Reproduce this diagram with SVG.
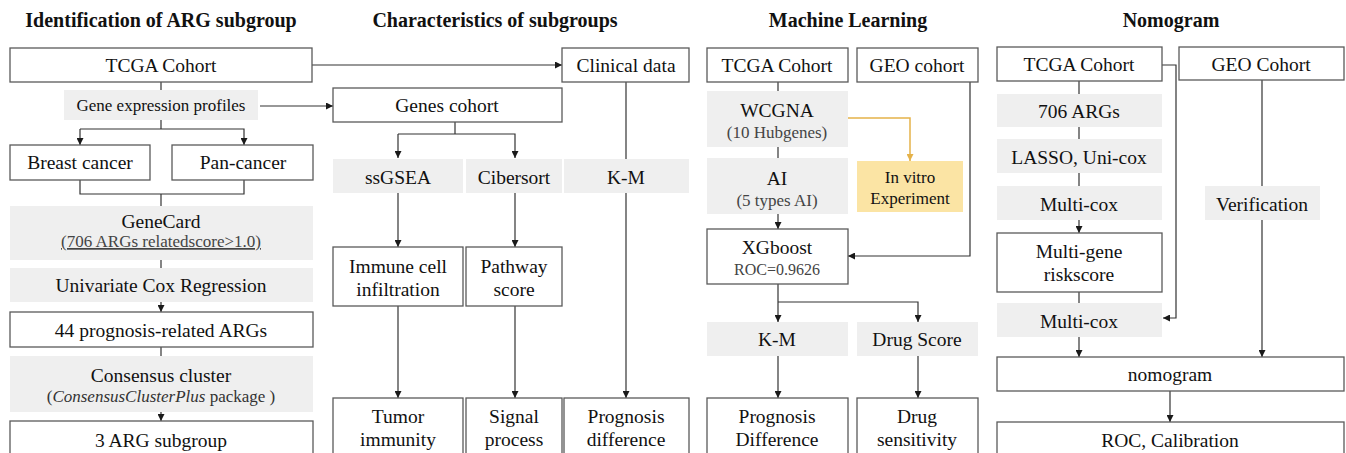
<svg xmlns="http://www.w3.org/2000/svg" width="1346" height="453" viewBox="0 0 1346 453">
<style>
.bg{fill:#fff}
.box{fill:#fff;stroke:#5a5a5a;stroke-width:1.3}
.grey{fill:#efefef;stroke:none}
.yel{fill:#fbe4a4;stroke:none}
.t{font-family:"Liberation Serif","Times New Roman",serif;font-size:19.5px;fill:#111;text-anchor:middle}
.s{font-family:"Liberation Serif","Times New Roman",serif;font-size:17px;fill:#444;text-anchor:middle}
.h{font-family:"Liberation Serif","Times New Roman",serif;font-size:20px;font-weight:bold;fill:#111;text-anchor:middle}
.c{fill:none;stroke:#333;stroke-width:1.2}
.o{fill:none;stroke:#e5b24a;stroke-width:1.5}
</style>
<defs>
<marker id="a" markerUnits="userSpaceOnUse" markerWidth="8" markerHeight="7" refX="7" refY="3.5" orient="auto">
<path d="M0,0 L7,3.5 L0,7 z" fill="#1a1a1a"/>
</marker>
<marker id="ao" markerUnits="userSpaceOnUse" markerWidth="8" markerHeight="7" refX="7" refY="3.5" orient="auto">
<path d="M0,0 L7,3.5 L0,7 z" fill="#e5b24a"/>
</marker>
</defs>
<rect class="bg" x="0" y="0" width="1346" height="453"/>

<g id="titles">
<text class="h" x="161" y="27">Identification of ARG subgroup</text>
<text class="h" x="495" y="27">Characteristics of subgroups</text>
<text class="h" x="848" y="27">Machine Learning</text>
<text class="h" x="1171" y="27">Nomogram</text>
</g>

<g id="connectors">
<!-- column 1 -->
<line class="c" x1="161" y1="82" x2="161" y2="90"/>
<line class="c" x1="161" y1="120" x2="161" y2="129"/>
<polyline class="c" points="80,129 244,129 244,145" marker-end="url(#a)"/>
<line class="c" x1="80" y1="129" x2="80" y2="145" marker-end="url(#a)"/>
<polyline class="c" points="80,180 80,194 244,194 244,180"/>
<line class="c" x1="161" y1="194" x2="161" y2="206"/>
<line class="c" x1="161" y1="260" x2="161" y2="268"/>
<line class="c" x1="161" y1="302" x2="161" y2="312" marker-end="url(#a)"/>
<line class="c" x1="161" y1="347" x2="161" y2="356"/>
<line class="c" x1="161" y1="412" x2="161" y2="421" marker-end="url(#a)"/>
<!-- cross column -->
<line class="c" x1="312" y1="65" x2="562" y2="65" marker-end="url(#a)"/>
<line class="c" x1="260" y1="106" x2="333" y2="106" marker-end="url(#a)"/>
<!-- column 2 -->
<line class="c" x1="455" y1="122" x2="455" y2="134"/>
<polyline class="c" points="398,134 515,134 515,158" marker-end="url(#a)"/>
<line class="c" x1="398" y1="134" x2="398" y2="158" marker-end="url(#a)"/>
<line class="c" x1="626" y1="82" x2="626" y2="159"/>
<line class="c" x1="398" y1="193" x2="398" y2="247" marker-end="url(#a)"/>
<line class="c" x1="515" y1="193" x2="515" y2="247" marker-end="url(#a)"/>
<line class="c" x1="626" y1="193" x2="626" y2="398" marker-end="url(#a)"/>
<line class="c" x1="398" y1="306" x2="398" y2="398" marker-end="url(#a)"/>
<line class="c" x1="515" y1="306" x2="515" y2="398" marker-end="url(#a)"/>
<!-- column 3 -->
<line class="c" x1="778" y1="82" x2="778" y2="91"/>
<line class="c" x1="778" y1="147" x2="778" y2="158"/>
<line class="c" x1="778" y1="214" x2="778" y2="229" marker-end="url(#a)"/>
<polyline class="c" points="970,82 970,256 848,256" marker-end="url(#a)"/>
<polyline class="o" points="848,118 910,118 910,161" marker-end="url(#ao)"/>
<line class="c" x1="778" y1="284" x2="778" y2="322" marker-end="url(#a)"/>
<polyline class="c" points="778,302 918,302 918,322" marker-end="url(#a)"/>
<line class="c" x1="778" y1="356" x2="778" y2="398" marker-end="url(#a)"/>
<line class="c" x1="918" y1="356" x2="918" y2="398" marker-end="url(#a)"/>
<!-- column 4 -->
<line class="c" x1="1079" y1="81" x2="1079" y2="94"/>
<line class="c" x1="1079" y1="127" x2="1079" y2="139"/>
<line class="c" x1="1079" y1="173" x2="1079" y2="186"/>
<line class="c" x1="1079" y1="220" x2="1079" y2="233" marker-end="url(#a)"/>
<line class="c" x1="1079" y1="292" x2="1079" y2="303"/>
<line class="c" x1="1079" y1="337" x2="1079" y2="357" marker-end="url(#a)"/>
<polyline class="c" points="1162,65 1176,65 1176,318 1163,318" marker-end="url(#a)"/>
<line class="c" x1="1262" y1="80" x2="1262" y2="186"/>
<line class="c" x1="1262" y1="220" x2="1262" y2="357" marker-end="url(#a)"/>
<line class="c" x1="1170" y1="391" x2="1170" y2="422" marker-end="url(#a)"/>
</g>

<!-- Column 1 nodes -->
<g id="c1-tcga"><rect class="box" x="10" y="48" width="302" height="34"/><text class="t" x="161" y="72">TCGA Cohort</text></g>
<g id="c1-gep"><rect class="grey" x="64" y="90" width="194" height="30"/><text class="t" x="161" y="111" style="font-size:17px">Gene expression profiles</text></g>
<g id="c1-breast"><rect class="box" x="10" y="145" width="140" height="35"/><text class="t" x="80" y="169">Breast cancer</text></g>
<g id="c1-pan"><rect class="box" x="172" y="145" width="141" height="35"/><text class="t" x="243" y="169">Pan-cancer</text></g>
<g id="c1-genecard"><rect class="grey" x="10" y="206" width="303" height="54"/><text class="t" x="161" y="228">GeneCard</text><text class="s" x="161" y="247" text-decoration="underline">(706 ARGs relatedscore&gt;1.0)</text></g>
<g id="c1-unicox"><rect class="grey" x="10" y="268" width="303" height="34"/><text class="t" x="161" y="292">Univariate Cox Regression</text></g>
<g id="c1-44"><rect class="box" x="10" y="312" width="303" height="35"/><text class="t" x="161" y="337">44 prognosis-related ARGs</text></g>
<g id="c1-consensus"><rect class="grey" x="10" y="356" width="303" height="56"/><text class="t" x="161" y="382">Consensus cluster</text><text class="t" x="161" y="402" style="font-size:17px;fill:#333">(<tspan font-style="italic">ConsensusClusterPlus</tspan> package )</text></g>
<g id="c1-3arg"><rect class="box" x="10" y="421" width="303" height="40"/><text class="t" x="161" y="447">3 ARG subgroup</text></g>

<!-- Column 2 nodes -->
<g id="c2-clinical"><rect class="box" x="562" y="48" width="127" height="34"/><text class="t" x="626" y="72">Clinical data</text></g>
<g id="c2-genes"><rect class="box" x="333" y="88" width="229" height="34"/><text class="t" x="447" y="112">Genes cohort</text></g>
<g id="c2-ssgsea"><rect class="grey" x="333" y="159" width="130" height="34"/><text class="t" x="398" y="184">ssGSEA</text></g>
<g id="c2-cibersort"><rect class="grey" x="466" y="159" width="96" height="34"/><text class="t" x="514" y="184">Cibersort</text></g>
<g id="c2-km"><rect class="grey" x="564" y="159" width="125" height="34"/><text class="t" x="626" y="184">K-M</text></g>
<g id="c2-immune"><rect class="box" x="333" y="247" width="130" height="59"/><text class="t" x="398" y="273">Immune cell</text><text class="t" x="398" y="296">infiltration</text></g>
<g id="c2-pathway"><rect class="box" x="466" y="247" width="96" height="59"/><text class="t" x="514" y="273">Pathway</text><text class="t" x="514" y="296">score</text></g>
<g id="c2-tumor"><rect class="box" x="333" y="398" width="130" height="62"/><text class="t" x="398" y="423">Tumor</text><text class="t" x="398" y="446">immunity</text></g>
<g id="c2-signal"><rect class="box" x="466" y="398" width="96" height="62"/><text class="t" x="514" y="423">Signal</text><text class="t" x="514" y="446">process</text></g>
<g id="c2-progdiff"><rect class="box" x="564" y="398" width="125" height="62"/><text class="t" x="626" y="423">Prognosis</text><text class="t" x="626" y="446">difference</text></g>

<!-- Column 3 nodes -->
<g id="c3-tcga"><rect class="box" x="707" y="48" width="141" height="34"/><text class="t" x="777" y="72">TCGA Cohort</text></g>
<g id="c3-geo"><rect class="box" x="857" y="48" width="121" height="34"/><text class="t" x="917" y="72">GEO cohort</text></g>
<g id="c3-wcgna"><rect class="grey" x="707" y="91" width="141" height="56"/><text class="t" x="777" y="117">WCGNA</text><text class="s" x="777" y="138">(10 Hubgenes)</text></g>
<g id="c3-ai"><rect class="grey" x="707" y="158" width="141" height="56"/><text class="t" x="777" y="185">AI</text><text class="s" x="777" y="206">(5 types AI)</text></g>
<g id="c3-invitro"><rect class="yel" x="857" y="161" width="106" height="51"/><text class="t" x="910" y="183" style="font-size:17px">In vitro</text><text class="t" x="910" y="204" style="font-size:17px">Experiment</text></g>
<g id="c3-xgboost"><rect class="box" x="707" y="229" width="141" height="55"/><text class="t" x="777" y="254">XGboost</text><text class="s" x="777" y="275" style="font-size:16px">ROC=0.9626</text></g>
<g id="c3-km"><rect class="grey" x="707" y="322" width="141" height="34"/><text class="t" x="777" y="346">K-M</text></g>
<g id="c3-drugscore"><rect class="grey" x="857" y="322" width="121" height="34"/><text class="t" x="917" y="346">Drug Score</text></g>
<g id="c3-progdiff"><rect class="box" x="707" y="398" width="141" height="62"/><text class="t" x="777" y="423">Prognosis</text><text class="t" x="777" y="446">Difference</text></g>
<g id="c3-drugsens"><rect class="box" x="857" y="398" width="121" height="62"/><text class="t" x="917" y="423">Drug</text><text class="t" x="917" y="446">sensitivity</text></g>

<!-- Column 4 nodes -->
<g id="c4-tcga"><rect class="box" x="997" y="47" width="165" height="34"/><text class="t" x="1079" y="71">TCGA Cohort</text></g>
<g id="c4-geo"><rect class="box" x="1179" y="47" width="165" height="33"/><text class="t" x="1261" y="71">GEO Cohort</text></g>
<g id="c4-706"><rect class="grey" x="997" y="94" width="165" height="33"/><text class="t" x="1079" y="118">706 ARGs</text></g>
<g id="c4-lasso"><rect class="grey" x="997" y="139" width="165" height="34"/><text class="t" x="1079" y="164">LASSO, Uni-cox</text></g>
<g id="c4-multicox1"><rect class="grey" x="997" y="186" width="165" height="34"/><text class="t" x="1079" y="211">Multi-cox</text></g>
<g id="c4-verification"><rect class="grey" x="1205" y="186" width="115" height="34"/><text class="t" x="1262" y="211">Verification</text></g>
<g id="c4-riskscore"><rect class="box" x="997" y="233" width="165" height="59"/><text class="t" x="1079" y="258">Multi-gene</text><text class="t" x="1079" y="281">riskscore</text></g>
<g id="c4-multicox2"><rect class="grey" x="997" y="303" width="165" height="34"/><text class="t" x="1079" y="328">Multi-cox</text></g>
<g id="c4-nomogram"><rect class="box" x="997" y="357" width="347" height="34"/><text class="t" x="1170" y="381">nomogram</text></g>
<g id="c4-roc"><rect class="box" x="997" y="422" width="347" height="40"/><text class="t" x="1170" y="447">ROC, Calibration</text></g>
</svg>
